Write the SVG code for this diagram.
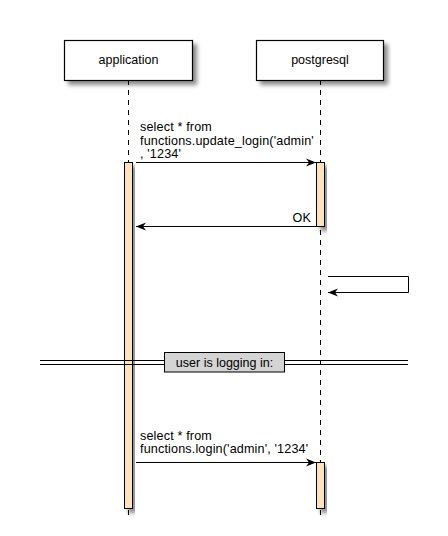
<svg xmlns="http://www.w3.org/2000/svg" width="448" height="536" viewBox="0 0 448 536">
<defs>
<filter id="sh" x="-20%" y="-20%" width="150%" height="160%">
<feGaussianBlur in="SourceAlpha" stdDeviation="2"/>
<feOffset dx="4" dy="4" result="b"/>
<feComponentTransfer><feFuncA type="linear" slope="0.45"/></feComponentTransfer>
<feMerge><feMergeNode/><feMergeNode in="SourceGraphic"/></feMerge>
</filter>
<marker id="ah" markerWidth="10" markerHeight="10" refX="10" refY="5" orient="auto" markerUnits="userSpaceOnUse">
<path d="M0,1 L10,5 L0,9 L3,5 Z" fill="#000"/>
</marker>
</defs>
<style>
text{font-family:"Liberation Sans",Arial,sans-serif;font-size:12.5px;fill:#000}
.msgt{font-size:12.6px;letter-spacing:0.15px}
.box{fill:#fff;stroke:#000;stroke-width:1.2}
.life{stroke:#000;stroke-width:1;stroke-dasharray:5,5;fill:none}
.act{fill:#FCE3B8;stroke:#000;stroke-width:1}
.msg{stroke:#000;stroke-width:1;fill:none}
</style>
<rect width="448" height="536" fill="#fff"/>
<g id="lifelines">
<line class="life" x1="128.5" y1="80" x2="128.5" y2="520"/>
<line class="life" x1="320.5" y1="80" x2="320.5" y2="520"/>
</g>
<g id="application">
<rect class="box" x="64.5" y="40.5" width="128" height="40" filter="url(#sh)"/>
<text x="128.5" y="64" text-anchor="middle">application</text>
</g>
<g id="postgresql">
<rect class="box" x="256.5" y="40.5" width="127" height="40" filter="url(#sh)"/>
<text x="320" y="64" text-anchor="middle">postgresql</text>
</g>
<g id="act-application">
<rect class="act" x="124.5" y="162.5" width="8" height="346" filter="url(#sh)"/>
</g>
<g id="act-postgresql-1">
<rect class="act" x="316.5" y="162.5" width="8" height="64" filter="url(#sh)"/>
</g>
<g id="act-postgresql-2">
<rect class="act" x="316.5" y="462.5" width="8" height="46" filter="url(#sh)"/>
</g>
<g id="divider">
<line x1="40" y1="360.5" x2="408" y2="360.5" stroke="#000"/>
<line x1="40" y1="364.5" x2="408" y2="364.5" stroke="#000"/>
<rect x="164.5" y="352.5" width="120" height="19.5" fill="#D4D4D4" stroke="#000"/>
<text x="224.5" y="366.5" text-anchor="middle">user is logging in:</text>
</g>
<g id="connectors">
<line class="msg" x1="136" y1="162.5" x2="316" y2="162.5" marker-end="url(#ah)"/>
<text class="msgt" x="140" y="131">select * from</text>
<text class="msgt" x="140" y="145">functions.update_login('admin'</text>
<text class="msgt" x="140" y="158">, '1234'</text>
<line class="msg" x1="316" y1="226.5" x2="136" y2="226.5" marker-end="url(#ah)"/>
<text class="msgt" x="311" y="222" text-anchor="end">OK</text>
<polyline class="msg" points="328,276.5 408.5,276.5 408.5,292.5 328,292.5" marker-end="url(#ah)"/>
<line class="msg" x1="136" y1="462.5" x2="316" y2="462.5" marker-end="url(#ah)"/>
<text class="msgt" x="140" y="440">select * from</text>
<text class="msgt" x="140" y="453">functions.login('admin', '1234'</text>
</g>
</svg>
